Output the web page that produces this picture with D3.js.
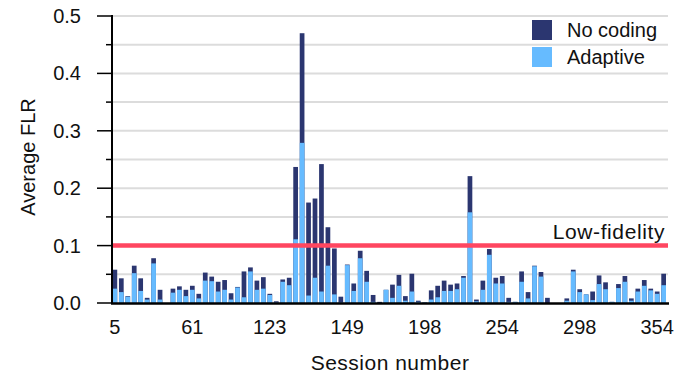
<!DOCTYPE html>
<html>
<head>
<meta charset="utf-8">
<script src="https://cdn.jsdelivr.net/npm/d3@7/dist/d3.min.js"></script>
<style>
  body { margin: 0; background: #fff; }
  text { font-family: "Liberation Sans", Arial, sans-serif; fill: #111; }
</style>
</head>
<body>
<div id="chart"></div>
<script>
// session ids (categories), one per bar
const sessions = [
  5, 10, 14, 19, 23, 28, 33, 37, 42, 46, 51, 56,
  61, 66, 71, 76, 82, 87, 92, 97, 102, 107, 112, 118,
  123, 125, 127, 129, 131, 133, 135, 137, 139, 141, 143, 146,
  149, 153, 157, 161, 165, 169, 173, 177, 181, 185, 189, 194,
  198, 203, 208, 212, 217, 221, 226, 231, 235, 240, 244, 249,
  254, 258, 262, 265, 269, 273, 276, 280, 284, 287, 291, 294,
  298, 303, 307, 312, 317, 321, 326, 331, 335, 340, 345, 349,
  354, 358
];
const noCoding = [
  .058, .043, .012, .065, .043, .009, .078, .023, 0, .025, .029, .023,
  .030, .016, .053, .046, .037, .040, .017, .028, .055, .062, .039, .045,
  .016, .003, .041, .044, .237, .470, .175, .182, .242, .132, .095, .011,
  .067, .034, .091, .056, .014, .002, .023, .032, .049, .012, .051, .004,
  .001, .022, .030, .039, .032, .034, .047, .221, .006, .039, .094, .044,
  .047, .009, .002, .055, .019, .065, .054, .009, 0, 0, .008, .058,
  .024, .015, .020, .048, .036, .002, .033, .047, .008, .025, .040, .025,
  .020, .051
];
const adaptive = [
  .025, .019, .011, .052, .021, .006, .069, .006, 0, .018, .023, .012,
  .023, .008, .039, .038, .020, .023, .006, .027, .010, .055, .023, .025,
  .014, .001, .037, .031, .111, .279, .013, .044, .020, .065, .015, .001,
  .066, .021, .078, .037, .002, 0, .023, .009, .030, .004, .020, .002,
  .001, .006, .010, .021, .021, .024, .044, .158, .003, .023, .084, .034,
  .034, .002, .002, .037, .008, .064, .046, 0, 0, 0, .004, .055,
  .019, .015, .005, .033, .024, .002, .026, .037, .004, .020, .030, .022,
  .016, .031
];
const xTickLabels = [5, 61, 123, 149, 198, 254, 298, 354];
const yMajorTicks = [0, 0.1, 0.2, 0.3, 0.4, 0.5];
const yMinorTicks = [0.05, 0.15, 0.25, 0.35, 0.45];
const threshold = 0.1;
const seriesNames = ['No coding', 'Adaptive'];

const W = 687, H = 377;
const colDark = '#2b3670', colLight = '#66bbff', colRed = '#ff4660';

const svg = d3.select('#chart').append('svg')
  .attr('width', W).attr('height', H);

const x = d3.scaleBand()
  .domain(sessions)
  .range([112.5, 666])
  .paddingInner(0.27)
  .paddingOuter(0);

const y = d3.scaleLinear()
  .domain([0, 0.5])
  .range([303, 16]);

// gridlines every 0.05
const grid = yMajorTicks.concat(yMinorTicks).filter(d => d > 0);
svg.append('g').selectAll('line').data(grid).join('line')
  .attr('x1', 113).attr('x2', 668)
  .attr('y1', d => y(d)).attr('y2', d => y(d))
  .attr('stroke', '#dcdcdc').attr('stroke-width', 2);

// bars: no coding behind, adaptive in front
svg.append('g').selectAll('rect').data(sessions).join('rect')
  .attr('x', d => x(d))
  .attr('width', x.bandwidth())
  .attr('y', (d, i) => y(noCoding[i]))
  .attr('height', (d, i) => y(0) - y(noCoding[i]))
  .attr('fill', colDark);

svg.append('g').selectAll('rect').data(sessions).join('rect')
  .attr('x', d => x(d))
  .attr('width', x.bandwidth())
  .attr('y', (d, i) => y(adaptive[i]))
  .attr('height', (d, i) => y(0) - y(adaptive[i]))
  .attr('fill', colLight);

// low-fidelity threshold
svg.append('line')
  .attr('x1', 113).attr('x2', 668)
  .attr('y1', y(threshold)).attr('y2', y(threshold))
  .attr('stroke', colRed).attr('stroke-width', 4.5);
svg.append('text')
  .attr('x', 665).attr('y', y(threshold) - 7)
  .attr('text-anchor', 'end')
  .style('font-size', '21px')
  .style('letter-spacing', '0.6px')
  .text('Low-fidelity');

// y axis
const yAxis = svg.append('g');
yAxis.append('line')
  .attr('x1', 112).attr('x2', 112)
  .attr('y1', y(0.5) - 1).attr('y2', y(0) + 1)
  .attr('stroke', '#000').attr('stroke-width', 2);
yAxis.selectAll('.major').data(yMajorTicks).join('line')
  .attr('x1', 97).attr('x2', 111)
  .attr('y1', d => y(d)).attr('y2', d => y(d))
  .attr('stroke', '#000').attr('stroke-width', 1.5);
yAxis.selectAll('.minor').data(yMinorTicks).join('line')
  .attr('x1', 106).attr('x2', 111)
  .attr('y1', d => y(d)).attr('y2', d => y(d))
  .attr('stroke', '#000').attr('stroke-width', 1.5);
yAxis.selectAll('text').data(yMajorTicks).join('text')
  .attr('x', 81).attr('y', d => y(d))
  .attr('dy', '0.35em')
  .attr('text-anchor', 'end')
  .style('font-size', '20px')
  .text(d3.format('.1f'));

// x axis
svg.append('line')
  .attr('x1', 111).attr('x2', 669)
  .attr('y1', y(0) + 0.5).attr('y2', y(0) + 0.5)
  .attr('stroke', '#000').attr('stroke-width', 2.5);
svg.append('g').selectAll('text').data(xTickLabels).join('text')
  .attr('x', d => x(d) + x.bandwidth() / 2)
  .attr('y', 334)
  .attr('text-anchor', 'middle')
  .style('font-size', '20px')
  .text(d => d);

// axis titles
svg.append('text')
  .attr('x', 390).attr('y', 370)
  .attr('text-anchor', 'middle')
  .style('font-size', '21px')
  .style('letter-spacing', '0.5px')
  .text('Session number');
svg.append('text')
  .attr('transform', 'translate(35,157) rotate(-90)')
  .attr('text-anchor', 'middle')
  .style('font-size', '20px')
  .text('Average FLR');

// legend
const legend = svg.append('g');
[colDark, colLight].forEach((c, i) => {
  legend.append('rect')
    .attr('x', 532).attr('y', 20 + i * 27)
    .attr('width', 20).attr('height', 20)
    .attr('fill', c);
  legend.append('text')
    .attr('x', 567).attr('y', 30 + i * 27)
    .attr('dy', '0.35em')
    .style('font-size', '20px')
    .text(seriesNames[i]);
});
</script>
</body>
</html>
